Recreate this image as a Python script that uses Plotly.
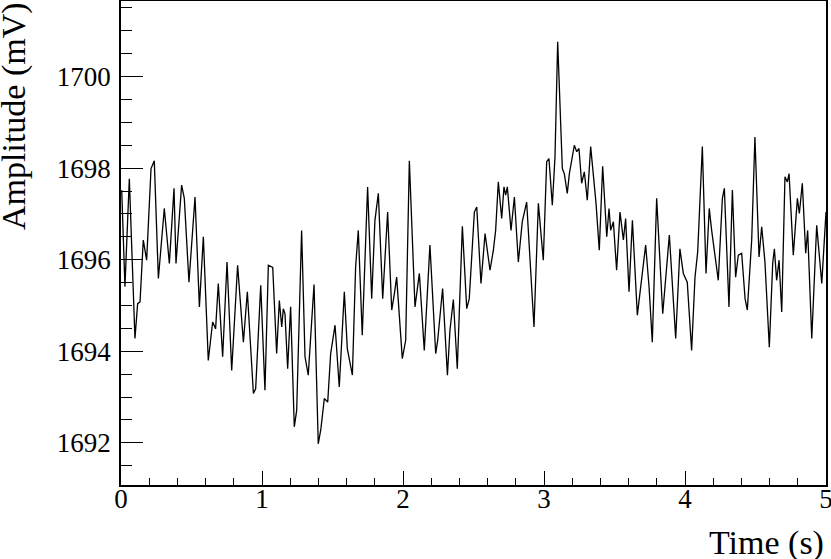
import plotly.graph_objects as go

time_s = [0.005, 0.028, 0.059, 0.099, 0.118, 0.135, 0.158, 0.182, 0.213, 0.236,
          0.265, 0.307, 0.343, 0.376, 0.390, 0.430, 0.449, 0.482, 0.525, 0.556,
          0.584, 0.619, 0.650, 0.671, 0.690, 0.721, 0.752, 0.785, 0.827,
          0.868, 0.896, 0.939, 0.955, 0.991, 1.021, 1.045, 1.076, 1.104, 1.123,
          1.140, 1.151, 1.163, 1.182, 1.203, 1.229, 1.246, 1.281, 1.305, 1.328,
          1.369, 1.399, 1.418, 1.442, 1.466, 1.487, 1.518, 1.548, 1.584, 1.605,
          1.641, 1.664, 1.683,
          1.711, 1.749, 1.778, 1.801, 1.825, 1.856, 1.891, 1.920, 1.939, 1.955,
          1.995, 2.019, 2.045, 2.085, 2.116, 2.151, 2.191, 2.232, 2.246, 2.281,
          2.315, 2.333, 2.357, 2.385, 2.421, 2.452, 2.470, 2.506, 2.523,
          2.553, 2.582, 2.617, 2.641, 2.657, 2.676, 2.700, 2.716, 2.728, 2.740,
          2.766, 2.790, 2.818, 2.846, 2.877, 2.929, 2.960, 2.995, 3.019, 3.035,
          3.059, 3.078, 3.097, 3.130, 3.144, 3.165, 3.180, 3.215, 3.232, 3.248,
          3.267, 3.286, 3.307, 3.331, 3.369,
          3.392, 3.416, 3.445, 3.461, 3.473, 3.492, 3.515, 3.539, 3.563, 3.579,
          3.603, 3.627, 3.662, 3.681, 3.721, 3.745, 3.768, 3.799, 3.818, 3.842,
          3.889, 3.910, 3.934, 3.964, 3.988, 4.016, 4.047, 4.071, 4.090, 4.123,
          4.149, 4.172, 4.189, 4.236,
          4.265, 4.279, 4.312, 4.336, 4.359, 4.378, 4.402, 4.426, 4.442, 4.473,
          4.496, 4.525, 4.544, 4.567, 4.598, 4.622, 4.634, 4.650, 4.667, 4.686,
          4.709, 4.726, 4.738, 4.768, 4.797, 4.811, 4.832, 4.856, 4.870, 4.899,
          4.934, 4.970, 5.000]

amplitude_mV = [1697.52, 1695.41, 1697.77, 1694.28, 1695.04, 1695.08, 1696.43, 1695.99, 1697.99, 1698.16,
                1695.59, 1697.12, 1695.92, 1697.56, 1695.92, 1697.63, 1697.34, 1695.51, 1697.37, 1694.97,
                1696.50, 1693.80, 1694.64, 1694.49, 1695.48, 1693.88, 1695.95, 1693.58, 1695.88,
                1694.20, 1695.30, 1693.08, 1693.18, 1695.44, 1693.15, 1695.88, 1695.83, 1693.95, 1695.11,
                1694.53, 1694.93, 1694.82, 1693.62, 1694.97, 1692.35, 1692.71, 1696.64, 1693.88, 1693.48,
                1695.46, 1691.98, 1692.31, 1692.97, 1692.89, 1693.95, 1694.57, 1693.22, 1695.30, 1694.06,
                1693.48, 1695.84, 1696.64,
                1694.35, 1697.59, 1695.15, 1696.86, 1697.45, 1695.15, 1697.04, 1694.90, 1695.26, 1695.62,
                1693.84, 1694.24, 1698.16, 1694.97, 1695.70, 1694.02, 1696.32, 1693.95, 1694.24, 1695.37,
                1693.48, 1694.46, 1695.13, 1693.62, 1696.73, 1694.93, 1695.15, 1697.04, 1697.15,
                1695.48, 1696.57, 1695.77, 1696.21, 1696.64, 1697.70, 1696.90, 1697.59, 1697.41, 1697.59,
                1696.64, 1697.37, 1695.95, 1696.83, 1697.26, 1694.53, 1697.23, 1695.99, 1698.14, 1698.21,
                1697.19, 1698.25, 1700.76, 1697.99, 1697.88, 1697.45, 1697.88, 1698.50, 1698.36, 1698.43,
                1697.67, 1697.92, 1697.30, 1698.47, 1697.23,
                1696.21, 1698.04, 1696.50, 1697.12, 1696.64, 1696.83, 1695.77, 1697.04, 1696.43, 1696.90,
                1695.30, 1696.86, 1694.79, 1695.33, 1696.32, 1695.41, 1694.20, 1697.34, 1696.14, 1694.82,
                1696.54, 1695.55, 1694.28, 1696.24, 1695.70, 1695.51, 1694.02, 1695.62, 1696.17, 1698.47,
                1695.70, 1697.12, 1696.64, 1695.55,
                1697.34, 1697.56, 1694.97, 1697.52, 1695.62, 1696.10, 1696.14, 1695.15, 1694.90, 1696.43,
                1698.68, 1696.06, 1696.72, 1695.95, 1694.09, 1695.92, 1696.24, 1695.55, 1695.99, 1694.86,
                1697.81, 1697.70, 1697.88, 1696.10, 1697.34, 1697.01, 1697.67, 1696.14, 1696.64, 1694.28,
                1696.75, 1695.48, 1697.04]

x_ticks = [0, 1, 2, 3, 4, 5]
y_ticks = [1692, 1694, 1696, 1698, 1700]

FONT = "Liberation Serif"

fig = go.Figure()
fig.add_trace(go.Scatter(x=time_s, y=amplitude_mV, mode="lines",
                         line=dict(color="black", width=1.3), showlegend=False,
                         hoverinfo="skip"))

fig.update_layout(
    width=831, height=559,
    margin=dict(l=121, r=5, t=1, b=74, autoexpand=False),
    paper_bgcolor="white", plot_bgcolor="white",
    font=dict(family=FONT, size=27, color="black"),
    xaxis=dict(range=[0, 5], tickvals=x_ticks, ticktext=[str(v) for v in x_ticks],
               ticks="inside", ticklen=14, tickwidth=1, tickcolor="black",
               minor=dict(ticks="inside", ticklen=7, dtick=0.2, tickcolor="black", tickwidth=1),
               showgrid=False, zeroline=False, showline=True, linecolor="black", linewidth=1.5,
               mirror=True, automargin=False, ticklabeloverflow="allow",
               ticklabelstandoff=-11, tickfont=dict(family=FONT, size=27)),
    yaxis=dict(range=[1691.08, 1701.65], tickvals=y_ticks, ticktext=[str(v) for v in y_ticks],
               ticks="inside", ticklen=22, tickwidth=1, tickcolor="black",
               minor=dict(ticks="inside", ticklen=11, dtick=0.5, tickcolor="black", tickwidth=1),
               showgrid=False, zeroline=False, showline=True, linecolor="black", linewidth=1.5,
               mirror=True, automargin=False, ticklabeloverflow="allow",
               ticklabelstandoff=3, tickfont=dict(family=FONT, size=27)),
    annotations=[
        dict(text="Time (s)", xref="paper", yref="paper", x=1.0, y=-0.1198,
             xanchor="right", yanchor="middle", showarrow=False,
             font=dict(family=FONT, size=34)),
        dict(text="Amplitude (mV)", xref="paper", yref="paper", x=-0.1518, y=1.002,
             xanchor="center", yanchor="top", textangle=-90, showarrow=False,
             font=dict(family=FONT, size=34)),
    ],
)

fig.write_html("out.html", config={"displayModeBar": False},
               post_script="document.body.style.margin='0';document.body.style.padding='0';")
